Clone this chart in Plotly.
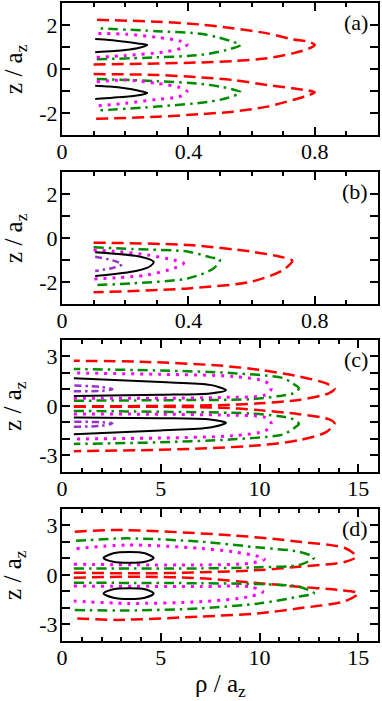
import plotly.graph_objects as go

### Data ###
# panel (a): rho / a_z in [0, 1]
a_red1_x = [0.10, 0.30, 0.44, 0.54, 0.65, 0.73, 0.78, 0.80, 0.78, 0.73, 0.65, 0.54, 0.44, 0.30, 0.10]
a_red1_y = [0.21, 0.25, 0.30, 0.36, 0.49, 0.71, 0.92, 1.09, 1.24, 1.35, 1.62, 1.85, 2.02, 2.15, 2.24]
a_red2_x = [0.10, 0.30, 0.44, 0.54, 0.65, 0.73, 0.78, 0.80, 0.78, 0.73, 0.65, 0.54, 0.44, 0.30, 0.10]
a_red2_y = [-0.23, -0.27, -0.38, -0.50, -0.73, -0.88, -0.98, -1.06, -1.20, -1.41, -1.71, -1.94, -2.05, -2.17, -2.27]
a_grn1_x = [0.11, 0.30, 0.44, 0.52, 0.565, 0.54, 0.49, 0.44, 0.30, 0.11]
a_grn1_y = [0.44, 0.53, 0.64, 0.86, 1.09, 1.24, 1.45, 1.60, 1.72, 1.85]
a_grn2_x = [0.11, 0.30, 0.44, 0.50, 0.565, 0.52, 0.46, 0.30, 0.11]
a_grn2_y = [-0.45, -0.55, -0.68, -0.80, -1.06, -1.33, -1.50, -1.71, -1.89]
a_mag1_x = [0.11, 0.20, 0.33, 0.39, 0.396, 0.37, 0.30, 0.205, 0.11]
a_mag1_y = [0.53, 0.61, 0.79, 1.01, 1.14, 1.29, 1.44, 1.58, 1.62]
a_mag2_x = [0.11, 0.20, 0.30, 0.37, 0.396, 0.37, 0.30, 0.20, 0.105]
a_mag2_y = [-0.58, -0.50, -0.65, -0.83, -1.03, -1.26, -1.38, -1.56, -1.68]
a_blk1_x = [0.105, 0.20, 0.248, 0.27, 0.24, 0.20, 0.15, 0.105]
a_blk1_y = [0.76, 0.86, 0.98, 1.09, 1.16, 1.24, 1.32, 1.36]
a_blk2_x = [0.105, 0.15, 0.20, 0.24, 0.27, 0.248, 0.20, 0.105]
a_blk2_y = [-0.76, -0.80, -0.88, -0.98, -1.09, -1.18, -1.26, -1.36]

# panel (b)
b_red_x = [0.10, 0.40, 0.60, 0.70, 0.729, 0.70, 0.60, 0.40, 0.10]
b_red_y = [-0.21, -0.32, -0.62, -0.88, -1.03, -1.45, -1.98, -2.29, -2.47]
b_grn_x = [0.10, 0.226, 0.40, 0.47, 0.50, 0.48, 0.40, 0.226, 0.10]
b_grn_y = [-0.42, -0.50, -0.62, -0.88, -0.97, -1.38, -1.83, -2.06, -2.14]
b_mag_x = [0.10, 0.18, 0.27, 0.353, 0.385, 0.353, 0.27, 0.18, 0.10]
b_mag_y = [-0.55, -0.62, -0.77, -1.00, -1.15, -1.38, -1.68, -1.80, -1.86]
b_blk_x = [0.105, 0.248, 0.29, 0.28, 0.237, 0.105]
b_blk_y = [-0.65, -0.85, -1.08, -1.27, -1.49, -1.73]
b_pur_x = [0.105, 0.163, 0.19, 0.163, 0.105]
b_pur_y = [-0.85, -1.03, -1.20, -1.35, -1.50]

# panel (c): rho / a_z in [0, 16]
c_red1_x = [0.6, 5.0, 8.0, 10.0, 12.0, 13.5, 13.8, 13.35, 12.0, 10.0, 8.0, 4.0, 0.6]
c_red1_y = [-0.02, 0.00, 0.05, 0.16, 0.37, 0.77, 1.05, 1.38, 1.79, 2.19, 2.45, 2.68, 2.74]
c_red2_x = [0.6, 5.0, 8.0, 10.0, 12.0, 13.5, 13.8, 13.35, 12.0, 10.0, 7.0, 4.0, 0.6]
c_red2_y = [-0.05, -0.05, -0.10, -0.25, -0.50, -0.80, -1.06, -1.60, -2.07, -2.38, -2.58, -2.68, -2.74]
c_grn1_x = [0.6, 5.0, 9.5, 11.0, 11.7, 12.0, 11.7, 11.2, 8.66, 5.0, 0.6]
c_grn1_y = [0.32, 0.35, 0.41, 0.60, 0.77, 1.08, 1.35, 1.69, 1.99, 2.15, 2.24]
c_grn2_x = [0.6, 5.0, 9.5, 11.0, 11.7, 12.0, 11.7, 11.2, 8.66, 5.0, 0.6]
c_grn2_y = [-0.30, -0.35, -0.45, -0.62, -0.80, -1.08, -1.38, -1.72, -2.02, -2.20, -2.30]
c_mag1_x = [0.6, 5.0, 8.0, 10.3, 10.6, 10.3, 8.66, 5.0, 0.6]
c_mag1_y = [0.47, 0.47, 0.52, 0.67, 1.08, 1.48, 1.79, 1.92, 2.00]
c_mag2_x = [0.6, 5.0, 8.0, 10.3, 10.6, 10.3, 8.66, 5.0, 0.6]
c_mag2_y = [-0.49, -0.50, -0.55, -0.70, -1.08, -1.50, -1.80, -1.94, -2.00]
c_blk1_x = [0.6, 5.0, 7.5, 8.3, 7.5, 5.0, 0.6]
c_blk1_y = [0.61, 0.68, 0.76, 0.96, 1.28, 1.45, 1.68]
c_blk2_x = [0.6, 5.0, 7.5, 8.3, 7.5, 5.0, 0.6]
c_blk2_y = [-0.69, -0.74, -0.82, -1.02, -1.30, -1.48, -1.72]
c_pur1_x = [0.6, 2.0, 2.55, 2.0, 0.6]
c_pur1_y = [0.90, 0.92, 1.02, 1.15, 1.24]
c_pur2_x = [0.6, 2.0, 2.55, 2.0, 0.6]
c_pur2_y = [-1.26, -1.20, -1.05, -0.98, -0.96]

# panel (d)
d_red1_x = [0.6, 4.0, 7.0, 10.0, 12.0, 14.35, 14.9, 14.35, 12.0, 8.66, 2.8, 0.6]
d_red1_y = [0.14, 0.10, 0.16, 0.30, 0.50, 0.80, 1.11, 1.62, 2.02, 2.40, 2.73, 2.62]
d_red2_x = [0.6, 4.0, 7.0, 10.0, 12.0, 14.0, 15.0, 14.35, 12.0, 10.0, 7.0, 2.8, 0.6]
d_red2_y = [-0.16, -0.10, -0.20, -0.50, -0.71, -0.91, -1.11, -1.58, -2.02, -2.32, -2.52, -2.72, -2.63]
d_grn1_x = [0.6, 7.0, 10.0, 12.0, 12.76, 12.0, 10.0, 7.0, 3.3, 0.6]
d_grn1_y = [0.40, 0.40, 0.47, 0.61, 1.05, 1.41, 1.66, 2.02, 2.22, 2.06]
d_grn2_x = [0.6, 7.0, 10.0, 12.0, 12.76, 12.0, 10.0, 7.0, 3.3, 0.6]
d_grn2_y = [-0.47, -0.50, -0.55, -0.71, -1.11, -1.31, -1.72, -2.02, -2.15, -2.12]
d_mag1_x = [0.6, 7.0, 9.5, 10.25, 10.0, 8.66, 7.0, 3.3, 0.6]
d_mag1_y = [0.65, 0.61, 0.71, 0.95, 1.11, 1.41, 1.62, 1.82, 1.58]
d_mag2_x = [0.6, 7.0, 9.5, 10.17, 9.5, 7.0, 3.3, 0.6]
d_mag2_y = [-0.67, -0.70, -0.71, -1.01, -1.31, -1.62, -1.72, -1.58]
d_blk1_x = [2.1, 2.6, 3.4, 4.2, 4.64, 4.2, 3.4, 2.6, 2.1]
d_blk1_y = [1.03, 1.32, 1.40, 1.32, 1.03, 0.80, 0.74, 0.80, 1.03]
d_blk2_x = [2.1, 2.6, 3.4, 4.2, 4.64, 4.2, 3.4, 2.6, 2.1]
d_blk2_y = [-1.12, -0.86, -0.80, -0.86, -1.12, -1.38, -1.46, -1.38, -1.12]

panel_labels = ["(a)", "(b)", "(c)", "(d)"]

### Styles ###
SERIF = "Liberation Serif"
STYLE = {
    "red": dict(color="#ff0000", width=2.5, dash="12px,6px"),
    "grn": dict(color="#008c00", width=2.5, dash="10px,5px,2.5px,5px"),
    "mag": dict(color="#ff00ff", width=3, dash="3px,6px"),
    "blk": dict(color="black", width=2),
    "pur": dict(color="#9932cc", width=2.5, dash="7px,4px,2.5px,4px"),
}

curves = [
    (1, "red", a_red1_x, a_red1_y), (1, "red", a_red2_x, a_red2_y),
    (1, "grn", a_grn1_x, a_grn1_y), (1, "grn", a_grn2_x, a_grn2_y),
    (1, "mag", a_mag1_x, a_mag1_y), (1, "mag", a_mag2_x, a_mag2_y),
    (1, "blk", a_blk1_x, a_blk1_y), (1, "blk", a_blk2_x, a_blk2_y),
    (2, "red", b_red_x, b_red_y), (2, "grn", b_grn_x, b_grn_y),
    (2, "mag", b_mag_x, b_mag_y), (2, "blk", b_blk_x, b_blk_y),
    (2, "pur", b_pur_x, b_pur_y),
    (3, "red", c_red1_x, c_red1_y), (3, "red", c_red2_x, c_red2_y),
    (3, "grn", c_grn1_x, c_grn1_y), (3, "grn", c_grn2_x, c_grn2_y),
    (3, "mag", c_mag1_x, c_mag1_y), (3, "mag", c_mag2_x, c_mag2_y),
    (3, "blk", c_blk1_x, c_blk1_y), (3, "blk", c_blk2_x, c_blk2_y),
    (3, "pur", c_pur1_x, c_pur1_y), (3, "pur", c_pur2_x, c_pur2_y),
    (4, "red", d_red1_x, d_red1_y), (4, "red", d_red2_x, d_red2_y),
    (4, "grn", d_grn1_x, d_grn1_y), (4, "grn", d_grn2_x, d_grn2_y),
    (4, "mag", d_mag1_x, d_mag1_y), (4, "mag", d_mag2_x, d_mag2_y),
    (4, "blk", d_blk1_x, d_blk1_y), (4, "blk", d_blk2_x, d_blk2_y),
]

fig = go.Figure()
for row, style, xs, ys in curves:
    sfx = "" if row == 1 else str(row)
    fig.add_trace(go.Scatter(
        x=xs, y=ys, mode="lines", xaxis="x" + sfx, yaxis="y" + sfx,
        line=dict(shape="spline", smoothing=0.8, **STYLE[style]),
        showlegend=False, hoverinfo="skip",
    ))

### Axes ###
domains = [[0.7931, 1.0], [0.5282, 0.7351], [0.2649, 0.4718], [0.0, 0.2069]]
tick_font = dict(family=SERIF, size=22, color="black")
axis_common = dict(
    showline=True, linewidth=2, linecolor="black", mirror="allticks",
    ticks="inside", ticklen=8, tickwidth=1.5, tickcolor="black",
    showgrid=False, zeroline=False, tickfont=tick_font, automargin=False,
)

layout = dict(
    width=382, height=701,
    margin=dict(l=62, r=4, t=3, b=60),
    paper_bgcolor="white", plot_bgcolor="white",
    font=dict(family=SERIF, size=22, color="black"),
)
annotations = []
for i in range(4):
    sfx = "" if i == 0 else str(i + 1)
    small = i < 2
    layout["xaxis" + sfx] = dict(
        axis_common, domain=[0, 1], anchor="y" + sfx,
        range=[0, 1] if small else [0, 16],
        tickmode="array", ticklabelstandoff=-4,
        tickvals=[0, 0.4, 0.8] if small else [0, 5, 10, 15],
        ticktext=["0", "0.4", "0.8"] if small else ["0", "5", "10", "15"],
        minor=dict(ticks="inside", ticklen=4, tickwidth=1.5, tickcolor="black",
                   tickmode="linear", tick0=0, dtick=0.1 if small else 1),
    )
    layout["yaxis" + sfx] = dict(
        axis_common, domain=domains[i], anchor="x" + sfx,
        range=[-3, 3] if small else [-4, 4],
        tickmode="array", ticklabelstandoff=-2,
        tickvals=[-2, 0, 2] if small else [-3, 0, 3],
        ticktext=["-2", "0", "2"] if small else ["-3", "0", "3"],
        minor=dict(ticks="inside", ticklen=8, tickwidth=1.5, tickcolor="black",
                   tickmode="linear", tick0=0, dtick=1),
    )
    annotations.append(dict(
        text=panel_labels[i], xref="x" + sfx + " domain", yref="y" + sfx + " domain",
        x=0.975, y=0.965, xanchor="right", yanchor="top", showarrow=False,
        font=dict(family=SERIF, size=22, color="black"),
    ))
    annotations.append(dict(
        text="z / a<sub>z</sub>", xref="paper", yref="paper",
        x=-0.149, y=(domains[i][0] + domains[i][1]) / 2,
        xanchor="center", yanchor="middle", textangle=-90, showarrow=False,
        font=dict(family=SERIF, size=25, color="black"),
    ))
annotations.append(dict(
    text="ρ / a<sub>z</sub>", xref="paper", yref="paper", x=0.5, y=-0.069,
    xanchor="center", yanchor="middle", showarrow=False,
    font=dict(family=SERIF, size=25, color="black"),
))
layout["annotations"] = annotations
fig.update_layout(**layout)

fig.write_html("out.html", config={"displayModeBar": False},
               post_script="document.body.style.margin='0px';")
